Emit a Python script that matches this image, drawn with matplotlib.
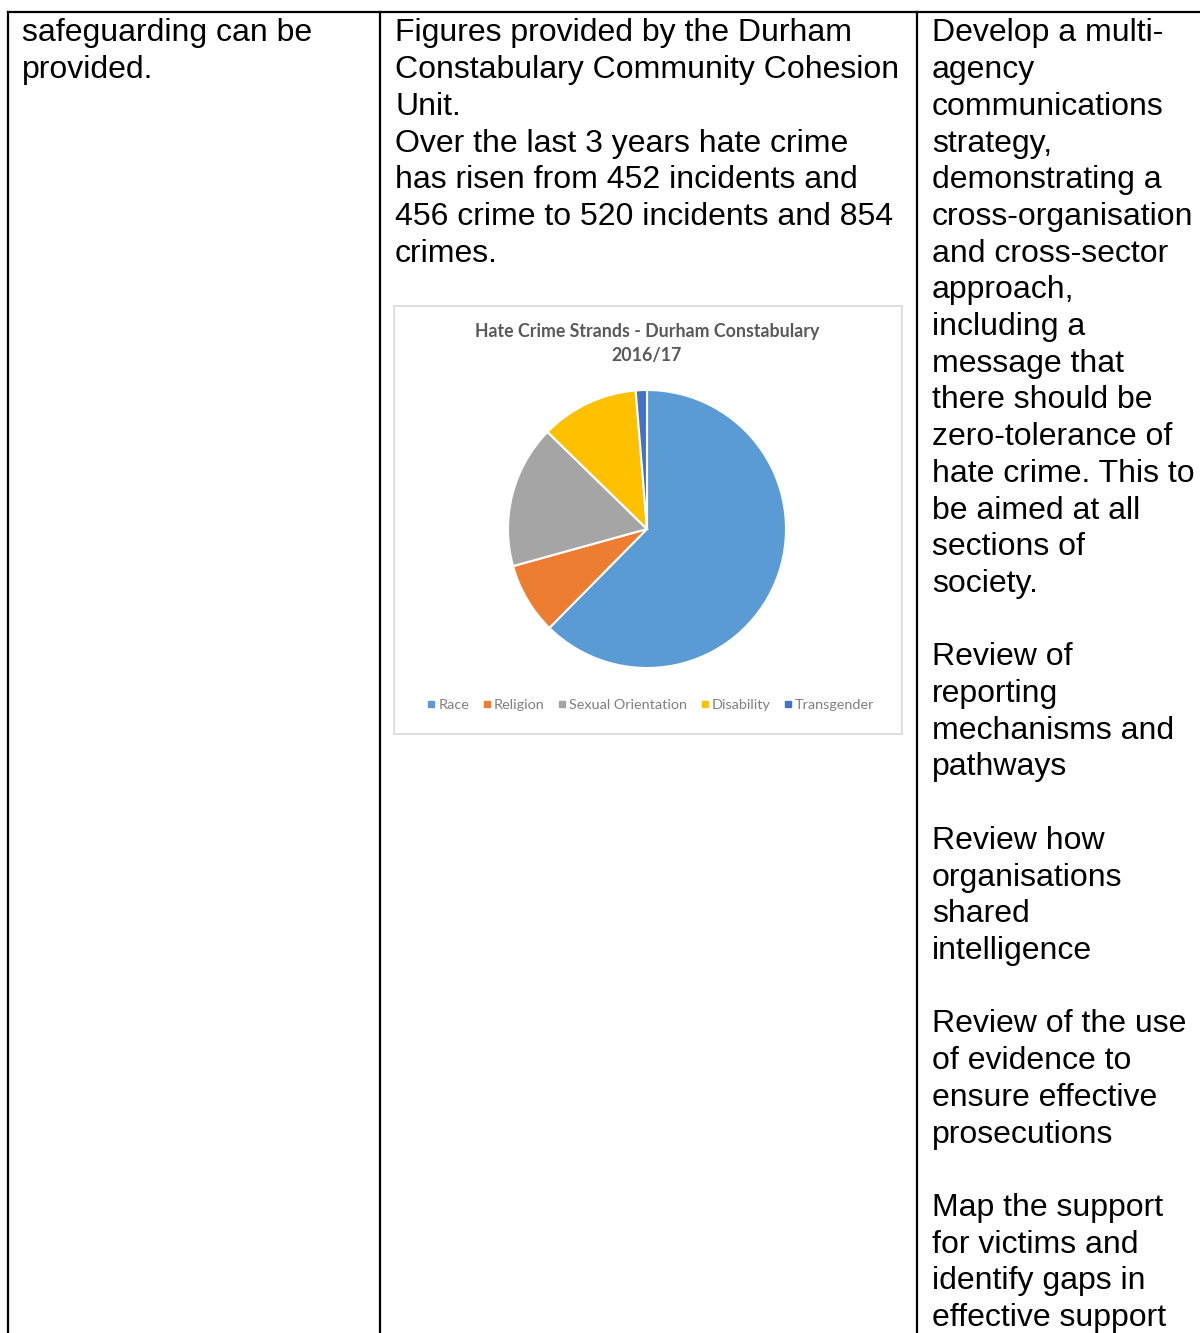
import matplotlib
matplotlib.use('Agg')
import matplotlib.pyplot as plt
from matplotlib.patches import Rectangle
from matplotlib.lines import Line2D

# texte des trois colonnes (une ligne par entrée, '' = ligne vide)
col1 = ["safeguarding can be", "provided."]
col2 = ["Figures provided by the Durham",
        "Constabulary Community Cohesion",
        "Unit.",
        "Over the last 3 years hate crime",
        "has risen from 452 incidents and",
        "456 crime to 520 incidents and 854",
        "crimes."]
col3 = ["Develop a multi-", "agency", "communications", "strategy,",
        "demonstrating a", "cross-organisation", "and cross-sector",
        "approach,", "including a", "message that", "there should be",
        "zero-tolerance of", "hate crime. This to", "be aimed at all",
        "sections of", "society.", "",
        "Review of", "reporting", "mechanisms and", "pathways", "",
        "Review how", "organisations", "shared", "intelligence", "",
        "Review of the use", "of evidence to", "ensure effective",
        "prosecutions", "",
        "Map the support", "for victims and", "identify gaps in",
        "effective support"]

# camembert
strands = ["Race", "Religion", "Sexual Orientation", "Disability", "Transgender"]
parts = [62.4, 8.3, 16.6, 11.4, 1.3]
couleurs = ['#5B9BD5', '#ED7D31', '#A5A5A5', '#FFC000', '#4472C4']

W, H = 1200, 1333
fig = plt.figure(figsize=(W / 100, H / 100), dpi=100)

bg = fig.add_axes([0, 0, 1, 1])
bg.set_xlim(0, W)
bg.set_ylim(H, 0)
bg.axis('off')

# lignes du tableau
bg.plot([8, W], [12, 12], color='black', lw=1.6)
for x in [8, 380, 917]:
    bg.plot([x, x], [12, H], color='black', lw=1.6)

police = 'Liberation Sans'
pas = 36.7
for xcol, lignes in [(22, col1), (395, col2), (932, col3)]:
    for i, txt in enumerate(lignes):
        if txt:
            bg.text(xcol, 33.5 + i * pas, txt, fontsize=23, family=police,
                    va='center', ha='left', color='black')

# cadre du graphique
bg.add_patch(Rectangle((394, 306), 508, 428, facecolor='white',
                       edgecolor='#d9d9d9', lw=1.2))
bg.text(647, 331, "Hate Crime Strands - Durham Constabulary", fontsize=12.8,
        family='Lato', fontweight='bold', color='#595959', ha='center', va='center')
bg.text(647, 355, "2016/17", fontsize=12.8, family='Lato', fontweight='bold',
        color='#595959', ha='center', va='center')

# légende
handles = [Line2D([], [], marker='s', ls='', color=c, markersize=4) for c in couleurs]
leg = bg.legend(handles, strands, loc='center', bbox_to_anchor=(650 / W, 1 - 705 / H),
                bbox_transform=fig.transFigure, ncol=5, frameon=False,
                handletextpad=0.1, columnspacing=0.8, handlelength=0.8,
                prop={'family': 'Lato', 'size': 10.4})
for t in leg.get_texts():
    t.set_color('#7f7f7f')

cx, cy, r = 647, 529, 139
ax = fig.add_axes([(cx - r) / W, 1 - (cy + r) / H, 2 * r / W, 2 * r / H])
ax.pie(parts, colors=couleurs, startangle=90, counterclock=False,
       wedgeprops=dict(edgecolor='white', linewidth=1.5))
ax.set_xlim(-1, 1)
ax.set_ylim(-1, 1)
ax.set_aspect('equal')
ax.axis('off')

plt.savefig('out.png', dpi=100)
plt.close()
